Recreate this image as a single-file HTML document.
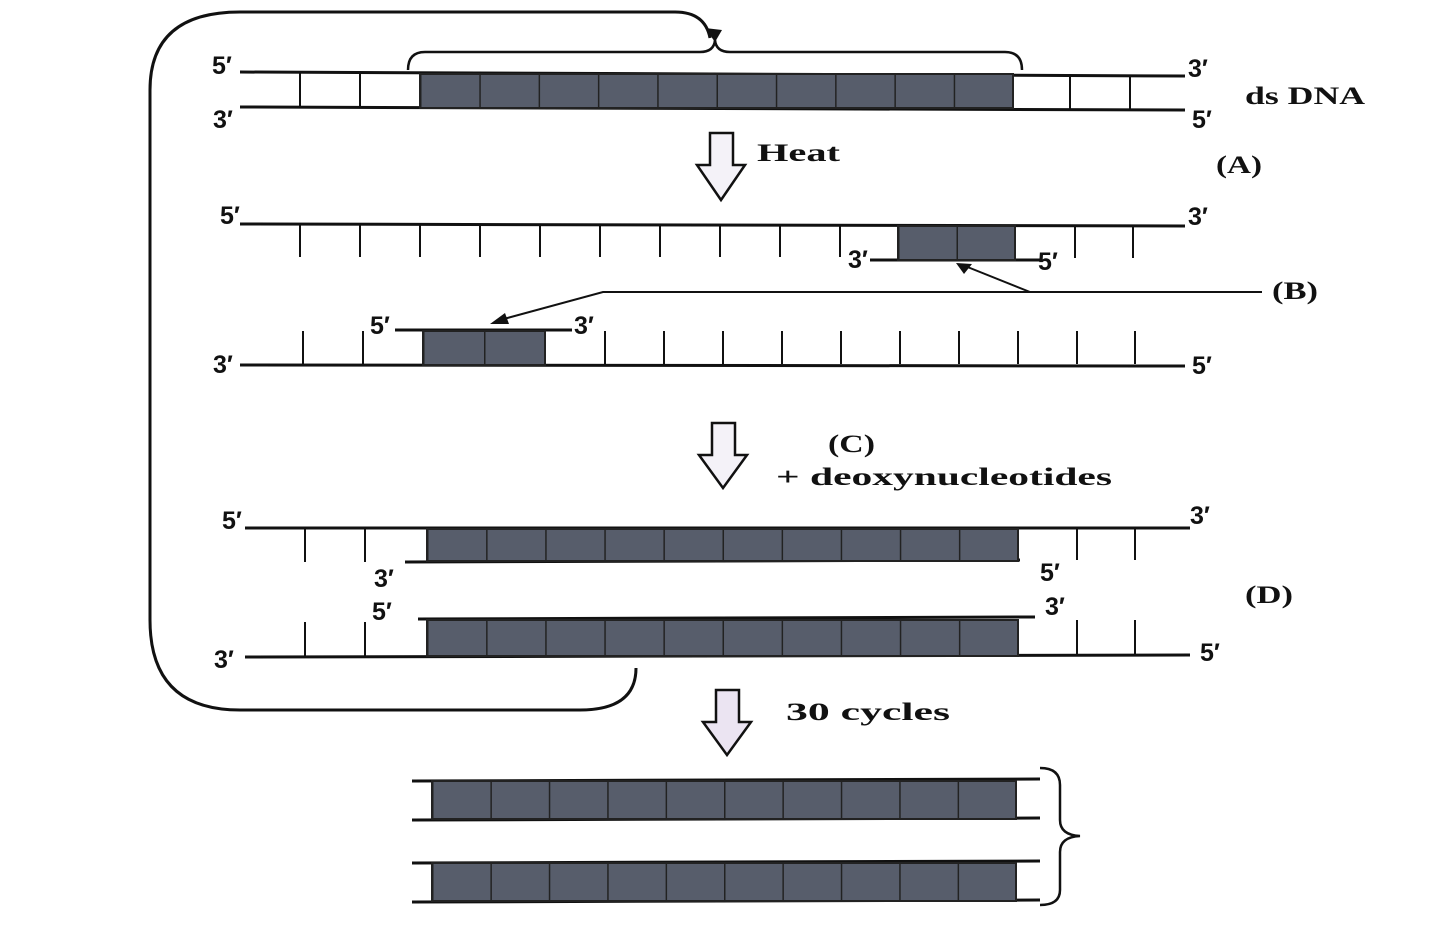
<!DOCTYPE html>
<html><head><meta charset="utf-8"><style>
html,body{margin:0;padding:0;background:#fff;}
svg{display:block;}
text{font-family:"Liberation Sans",sans-serif;font-size:25px;font-weight:bold;fill:#111;}
.b{font-family:"Liberation Serif",serif;font-weight:bold;font-size:25px;}
</style></head><body>
<svg width="1450" height="931" viewBox="0 0 1450 931" xmlns="http://www.w3.org/2000/svg">
<defs>
<pattern id="g" width="0.1" height="1" patternUnits="objectBoundingBox">
<rect width="200" height="100" fill="#575d6b"/>
<line x1="0" y1="0" x2="0" y2="100" stroke="#222" stroke-width="3"/>
</pattern>
<pattern id="g2" width="0.5" height="1" patternUnits="objectBoundingBox">
<rect width="200" height="100" fill="#575d6b"/>
<line x1="0" y1="0" x2="0" y2="100" stroke="#222" stroke-width="3"/>
</pattern>
</defs>
<g stroke="#111" stroke-width="3" fill="none">
<path d="M636 668 Q636 710 580 710 L240 710 Q150 710 150 620 L150 90 Q150 12 240 12 L675 12 Q705 12 710 38"/>
<path d="M408 70 Q408 52 425 52 L700 52 Q714 52 715 40 Q716 52 730 52 L1005 52 Q1022 52 1022 70" stroke-width="2.5"/>
<line x1="240" y1="72" x2="1185" y2="76"/>
<line x1="240" y1="107" x2="1185" y2="110"/>
<line x1="300" y1="73" x2="300" y2="107" stroke-width="2"/>
<line x1="360" y1="73" x2="360" y2="107" stroke-width="2"/>
<line x1="1070" y1="75" x2="1070" y2="109" stroke-width="2"/>
<line x1="1130" y1="75" x2="1130" y2="109" stroke-width="2"/>
<line x1="240" y1="224" x2="1185" y2="226"/>
<line x1="870" y1="260" x2="1040" y2="260"/>
<g stroke-width="2">
<line x1="300" y1="225" x2="300" y2="257"/><line x1="360" y1="225" x2="360" y2="257"/>
<line x1="420" y1="225" x2="420" y2="257"/><line x1="480" y1="225" x2="480" y2="257"/>
<line x1="540" y1="225" x2="540" y2="257"/><line x1="600" y1="225" x2="600" y2="257"/>
<line x1="660" y1="225" x2="660" y2="257"/><line x1="720" y1="225" x2="720" y2="257"/>
<line x1="780" y1="225" x2="780" y2="257"/><line x1="840" y1="225" x2="840" y2="257"/>
<line x1="1075" y1="226" x2="1075" y2="258"/><line x1="1133" y1="226" x2="1133" y2="258"/>
</g>
<path d="M1262 292 L603 292 L500 320" stroke-width="2"/>
<path d="M1030 292 L965 266" stroke-width="2"/>
<line x1="240" y1="365" x2="1185" y2="366"/>
<line x1="395" y1="330" x2="572" y2="330"/>
<g stroke-width="2">
<line x1="303" y1="331" x2="303" y2="364"/><line x1="363" y1="331" x2="363" y2="364"/>
<line x1="605" y1="331" x2="605" y2="364"/><line x1="664" y1="331" x2="664" y2="364"/>
<line x1="723" y1="331" x2="723" y2="364"/><line x1="782" y1="331" x2="782" y2="364"/>
<line x1="841" y1="331" x2="841" y2="364"/><line x1="900" y1="331" x2="900" y2="364"/>
<line x1="959" y1="331" x2="959" y2="364"/><line x1="1018" y1="331" x2="1018" y2="364"/>
<line x1="1077" y1="331" x2="1077" y2="364"/><line x1="1135" y1="331" x2="1135" y2="364"/>
</g>
<line x1="245" y1="528" x2="1190" y2="528"/>
<line x1="405" y1="562" x2="1020" y2="560"/>
<g stroke-width="2">
<line x1="305" y1="529" x2="305" y2="562"/><line x1="365" y1="529" x2="365" y2="562"/>
<line x1="1077" y1="529" x2="1077" y2="560"/><line x1="1135" y1="529" x2="1135" y2="560"/>
</g>
<line x1="418" y1="619" x2="1035" y2="617"/>
<line x1="245" y1="657" x2="1190" y2="655"/>
<g stroke-width="2">
<line x1="305" y1="622" x2="305" y2="656"/><line x1="365" y1="622" x2="365" y2="656"/>
<line x1="1077" y1="620" x2="1077" y2="655"/><line x1="1135" y1="620" x2="1135" y2="655"/>
</g>
<line x1="412" y1="781" x2="1040" y2="779"/>
<line x1="412" y1="820" x2="1040" y2="818"/>
<line x1="412" y1="863" x2="1040" y2="861"/>
<line x1="412" y1="902" x2="1040" y2="900"/>
<path d="M1040 768 Q1060 768 1060 785 L1060 820 Q1060 835 1080 836 Q1060 837 1060 852 L1060 890 Q1060 905 1040 905" stroke-width="2.5"/>
</g>
<polygon points="715,42 705,28 722,30" fill="#111"/>
<polygon points="490,324 505,313 509,324" fill="#111"/>
<polygon points="956,263 972,264 964,274" fill="#111"/>
<g stroke="#222" stroke-width="2">
<rect x="420" y="74" width="593" height="34" fill="url(#g)"/>
<rect x="898" y="226" width="117" height="34" fill="url(#g2)"/>
<rect x="423" y="331" width="122" height="34" fill="url(#g2)"/>
<rect x="427" y="529" width="591" height="32" fill="url(#g)"/>
<rect x="427" y="620" width="591" height="36" fill="url(#g)"/>
<rect x="432" y="781" width="584" height="38" fill="url(#g)"/>
<rect x="432" y="863" width="584" height="38" fill="url(#g)"/>
</g>
<g fill="#f4f2f8" stroke="#111" stroke-width="2.5">
<polygon points="710,133 733,133 733,165 745,165 721,200 697,165 710,165"/>
<polygon points="712,423 735,423 735,455 747,455 723,488 699,455 712,455"/>
<polygon points="716,690 739,690 739,722 751,722 727,755 703,722 716,722" fill="#ebe4f2"/>
</g>
<text x="212" y="74">5′</text><text x="213" y="128">3′</text>
<text x="1188" y="77">3′</text><text x="1192" y="128">5′</text>
<text class="b" x="1245" y="104" textLength="120" lengthAdjust="spacingAndGlyphs">ds DNA</text>
<text class="b" x="757" y="161" textLength="83" lengthAdjust="spacingAndGlyphs">Heat</text>
<text class="b" x="1216" y="173" textLength="46" lengthAdjust="spacingAndGlyphs">(A)</text>
<text x="220" y="224">5′</text><text x="1188" y="225">3′</text>
<text x="848" y="268">3′</text><text x="1038" y="270">5′</text>
<text class="b" x="1272" y="299" textLength="46" lengthAdjust="spacingAndGlyphs">(B)</text>
<text x="370" y="334">5′</text><text x="574" y="334">3′</text>
<text x="213" y="373">3′</text><text x="1192" y="374">5′</text>
<text class="b" x="828" y="452" textLength="47" lengthAdjust="spacingAndGlyphs">(C)</text>
<text class="b" x="776" y="485" textLength="336" lengthAdjust="spacingAndGlyphs">+ deoxynucleotides</text>
<text x="222" y="529">5′</text><text x="1190" y="524">3′</text>
<text x="374" y="587">3′</text><text x="1040" y="581">5′</text>
<text class="b" x="1245" y="603" textLength="48" lengthAdjust="spacingAndGlyphs">(D)</text>
<text x="372" y="620">5′</text><text x="1045" y="615">3′</text>
<text x="214" y="668">3′</text><text x="1200" y="661">5′</text>
<text class="b" x="786" y="720" textLength="164" lengthAdjust="spacingAndGlyphs">30 cycles</text>
</svg>
</body></html>
